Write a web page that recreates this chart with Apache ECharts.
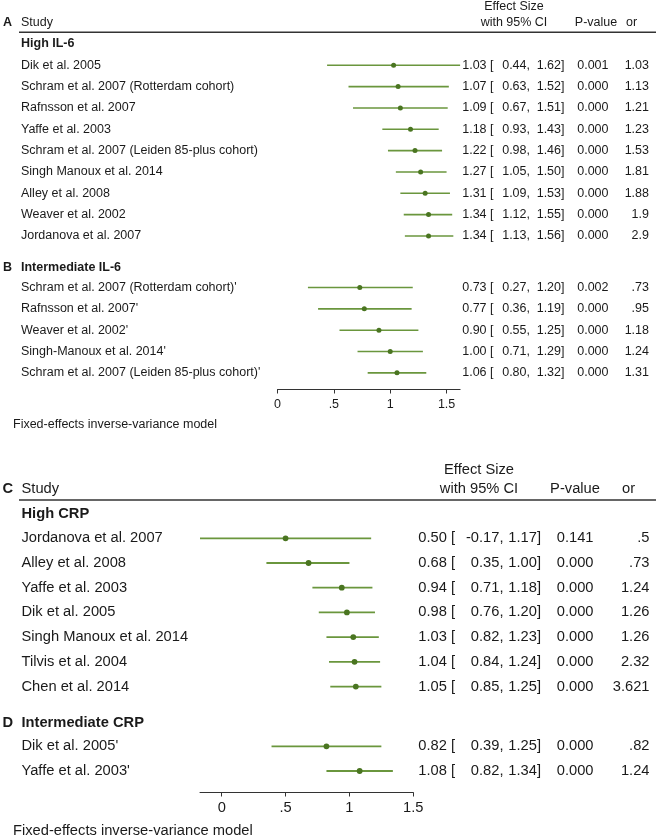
<!DOCTYPE html>
<html><head><meta charset="utf-8">
<script src="https://cdn.jsdelivr.net/npm/echarts@6/dist/echarts.min.js"></script>
<style>html,body{margin:0;padding:0;background:#fff}#c{width:660px;height:839px}</style>
</head><body><div id="c"></div>
<script>
// ---------- DATA ----------
// Panel A: High IL-6
const studiesA = ['Dik et al. 2005','Schram et al. 2007 (Rotterdam cohort)','Rafnsson et al. 2007','Yaffe et al. 2003','Schram et al. 2007 (Leiden 85-plus cohort)','Singh Manoux et al. 2014','Alley et al. 2008','Weaver et al. 2002','Jordanova et al. 2007'];
const esA = [1.03,1.07,1.09,1.18,1.22,1.27,1.31,1.34,1.34];
const loA = [0.44,0.63,0.67,0.93,0.98,1.05,1.09,1.12,1.13];
const hiA = [1.62,1.52,1.51,1.43,1.46,1.50,1.53,1.55,1.56];
const pA  = ['0.001','0.000','0.000','0.000','0.000','0.000','0.000','0.000','0.000'];
const orA = ['1.03','1.13','1.21','1.23','1.53','1.81','1.88','1.9','2.9'];
// Panel B: Intermediate IL-6
const studiesB = ["Schram et al. 2007 (Rotterdam cohort)'","Rafnsson et al. 2007'","Weaver et al. 2002'","Singh-Manoux et al. 2014'","Schram et al. 2007 (Leiden 85-plus cohort)'"];
const esB = [0.73,0.77,0.90,1.00,1.06];
const loB = [0.27,0.36,0.55,0.71,0.80];
const hiB = [1.20,1.19,1.25,1.29,1.32];
const pB  = ['0.002','0.000','0.000','0.000','0.000'];
const orB = ['.73','.95','1.18','1.24','1.31'];
// Panel C: High CRP
const studiesC = ['Jordanova et al. 2007','Alley et al. 2008','Yaffe et al. 2003','Dik et al. 2005','Singh Manoux et al. 2014','Tilvis et al. 2004','Chen et al. 2014'];
const esC = [0.50,0.68,0.94,0.98,1.03,1.04,1.05];
const loC = [-0.17,0.35,0.71,0.76,0.82,0.84,0.85];
const hiC = [1.17,1.00,1.18,1.20,1.23,1.24,1.25];
const pC  = ['0.141','0.000','0.000','0.000','0.000','0.000','0.000'];
const orC = ['.5','.73','1.24','1.26','1.26','2.32','3.621'];
// Panel D: Intermediate CRP
const studiesD = ["Dik et al. 2005'","Yaffe et al. 2003'"];
const esD = [0.82,1.08];
const loD = [0.39,0.82];
const hiD = [1.25,1.34];
const pD  = ['0.000','0.000'];
const orD = ['.82','1.24'];
// Axis ticks
const ticksTop = [0,0.5,1,1.5];
const ticksBottom = [0,0.5,1,1.5];
const footnote = 'Fixed-effects inverse-variance model';

// ---------- STYLE ----------
const FONT = '"Liberation Sans", Arial, Helvetica, sans-serif';
const TEXT = '#1a1a1a', LINE = '#6a963d', DOT = '#4a7521', RULE = '#333333';

function buildRows(sections){
  const rows = [], heads = [];
  let last = null;
  sections.forEach((s, si) => {
    const headY = si === 0 ? -1 : last + 1.47;
    const start = si === 0 ? 0 : last + 2.42;
    heads.push({letter: si === 0 ? '' : s.letter, title: s.title, y: headY});
    s.names.forEach((n, i) => rows.push({name:n, es:s.es[i], lo:s.lo[i], hi:s.hi[i], p:s.p[i], or:s.or[i], y:start + i}));
    last = start + s.names.length - 1;
  });
  return {rows, heads};
}

const panelTop = buildRows([
  {letter:'A', title:'High IL-6', names:studiesA, es:esA, lo:loA, hi:hiA, p:pA, or:orA},
  {letter:'B', title:'Intermediate IL-6', names:studiesB, es:esB, lo:loB, hi:hiB, p:pB, or:orB}
]);
const panelBot = buildRows([
  {letter:'C', title:'High CRP', names:studiesC, es:esC, lo:loC, hi:hiC, p:pC, or:orC},
  {letter:'D', title:'Intermediate CRP', names:studiesD, es:esD, lo:loD, hi:hiD, p:pD, or:orD}
]);

const panels = [
  {data: panelTop, firstLetter:'A', fs:12.5, lw:1.6, dotR:2.5, letterX:3, ruleX:[19,656],
   col:{name:21, es:493.5, lo:530, hi:564.5, p:608.5, or:649},
   hdr:{es:514, p:596, or:626},
   grid:{left:277.5, width:182.6, top:1.3, height:388.2}, xMin:0, xMax:1.62, yMin:-3, yMax:15.2, ticks:ticksTop, labelMargin:9},
  {data: panelBot, firstLetter:'C', fs:14.7, lw:1.8, dotR:2.9, letterX:2.5, ruleX:[19,656],
   col:{name:21.5, es:455, lo:503.5, hi:541, p:593.5, or:649.5},
   hdr:{es:479, p:575, or:622},
   grid:{left:200, width:213.3, top:464.2, height:328.3}, xMin:-0.17, xMax:1.5, yMin:-3, yMax:10.29, ticks:ticksBottom, labelMargin:8}
];

function txt(x, y, text, P, align, bold){
  return {type:'text', style:{x:x, y:y, text:text, align:align||'left', verticalAlign:'middle',
    fontSize:P.fs, fontFamily:FONT, fontWeight:bold?'bold':'normal', fill:TEXT}};
}
const fmt = v => v.toFixed(2);

function rowRender(P){
  return function(params, api){
    const r = P.data.rows[params.dataIndex];
    const y = api.coord([0, api.value(3)])[1];
    const xLo = api.coord([api.value(0), 0])[0];
    const xHi = api.coord([api.value(1), 0])[0];
    const xEs = api.coord([api.value(2), 0])[0];
    return {type:'group', children:[
      {type:'line', shape:{x1:xLo, y1:y, x2:xHi, y2:y}, style:{stroke:LINE, lineWidth:P.lw}},
      {type:'circle', shape:{cx:xEs, cy:y, r:P.dotR}, style:{fill:DOT}},
      txt(P.col.name, y, r.name, P, 'left'),
      txt(P.col.es, y, fmt(r.es) + ' [', P, 'right'),
      txt(P.col.lo, y, fmt(r.lo) + ',', P, 'right'),
      txt(P.col.hi, y, fmt(r.hi) + ']', P, 'right'),
      txt(P.col.p, y, r.p, P, 'right'),
      txt(P.col.or, y, r.or, P, 'right')
    ]};
  };
}
function headRender(P){
  return function(params, api){
    const h = P.data.heads[params.dataIndex];
    const y = api.coord([0, api.value(1)])[1];
    const ch = [txt(P.col.name, y, h.title, P, 'left', true)];
    if (h.letter) ch.push(txt(P.letterX, y, h.letter, P, 'left', true));
    return {type:'group', children:ch};
  };
}
function headerRender(P){
  return function(params, api){
    const y2 = api.coord([0, -2])[1];
    const y1 = api.coord([0, -2.75])[1];
    const yr = api.coord([0, -1.55])[1];
    return {type:'group', children:[
      txt(P.letterX, y2, P.firstLetter, P, 'left', true),
      txt(P.col.name, y2, 'Study', P, 'left'),
      txt(P.hdr.es, y1, 'Effect Size', P, 'center'),
      txt(P.hdr.es, y2, 'with 95% CI', P, 'center'),
      txt(P.hdr.p, y2, 'P-value', P, 'center'),
      txt(P.hdr.or, y2, 'or', P, 'left'),
      {type:'line', shape:{x1:P.ruleX[0], y1:yr, x2:P.ruleX[1], y2:yr}, style:{stroke:RULE, lineWidth:1.3}}
    ]};
  };
}

const option = {
  animation:false,
  grid: panels.map(P => Object.assign({containLabel:false, outerBoundsMode:'none'}, P.grid)),
  xAxis: panels.map((P, i) => ({
    type:'value', gridIndex:i, min:P.xMin, max:P.xMax, position:'bottom',
    axisLine:{show:true, onZero:false, lineStyle:{color:RULE, width:1}},
    axisTick:{show:true, length:4, customValues:P.ticks, lineStyle:{color:RULE}},
    axisLabel:{customValues:P.ticks, margin:P.labelMargin, fontSize:P.fs, fontFamily:FONT, color:TEXT,
      formatter: v => String(v).replace(/^0\./, '.')},
    splitLine:{show:false}
  })),
  yAxis: panels.map((P, i) => ({type:'value', gridIndex:i, inverse:true, min:P.yMin, max:P.yMax, show:false})),
  series: [].concat(...panels.map((P, i) => ([
    {type:'custom', xAxisIndex:i, yAxisIndex:i, clip:false, renderItem:rowRender(P),
     data:P.data.rows.map(r => [r.lo, r.hi, r.es, r.y])},
    {type:'custom', xAxisIndex:i, yAxisIndex:i, clip:false, renderItem:headRender(P),
     data:P.data.heads.map(h => [0, h.y])},
    {type:'custom', xAxisIndex:i, yAxisIndex:i, clip:false, renderItem:headerRender(P),
     data:[[0, -2]]}
  ]))),
  graphic: [
    {type:'text', left:13, top:425 - 7, style:{text:footnote, fontSize:12.5, fontFamily:FONT, fill:TEXT}},
    {type:'text', left:13, top:832 - 8.5, style:{text:footnote, fontSize:14.7, fontFamily:FONT, fill:TEXT}}
  ]
};
const chart = echarts.init(document.getElementById('c'), null, {renderer:'canvas'});
chart.setOption(option);
</script></body></html>
